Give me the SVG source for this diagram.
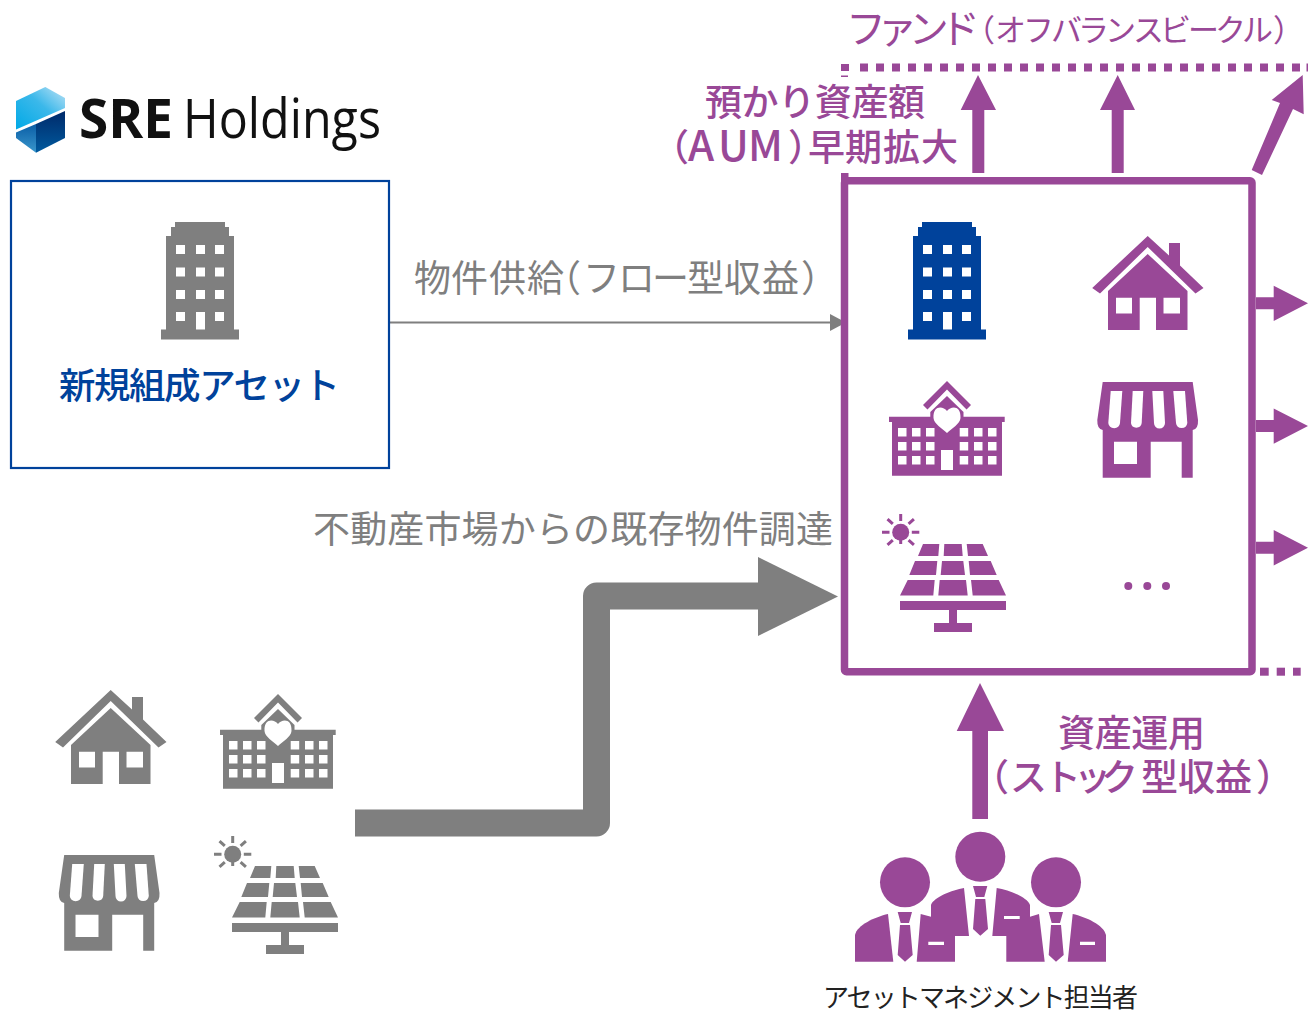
<svg xmlns="http://www.w3.org/2000/svg" width="1308" height="1014" viewBox="0 0 1308 1014">
<style>
text{font-family:"Noto Sans CJK JP","Noto Sans",sans-serif}
.p{fill:#994897}.g{fill:#7f7f7f}.b{fill:#00429b}.w{fill:#fff}
.t36{font-size:37px}
.lb{font-weight:500}
.lg{font-family:"Open Sans","Noto Sans",sans-serif;fill:#111}
</style>
<defs>
<linearGradient id="lgUp" x1="0" y1="1" x2="1" y2="0"><stop offset="0" stop-color="#00a9e6"/><stop offset=".55" stop-color="#3bb8ea"/><stop offset="1" stop-color="#bfe3f6"/></linearGradient>
<linearGradient id="lgLow" x1="0" y1="0" x2="0" y2="1"><stop offset="0" stop-color="#0a5ea6"/><stop offset="1" stop-color="#3a97cc"/></linearGradient>
<linearGradient id="lgDark" x1="0" y1="0" x2="0" y2="1"><stop offset="0" stop-color="#002a6a"/><stop offset="1" stop-color="#005a9e"/></linearGradient>
<g id="iBuilding">
<path d="M175 222H225V227H229V236H234V329.5H239V339.5H161V329.5H166V236H171V227H175Z"/>
<g class="w"><rect x="176" y="245" width="9" height="9"/><rect x="196" y="245" width="9" height="9"/><rect x="215" y="245" width="9" height="9"/><rect x="176" y="267.500" width="9" height="9"/><rect x="196" y="267.500" width="9" height="9"/><rect x="215" y="267.500" width="9" height="9"/><rect x="176" y="290" width="9" height="9"/><rect x="196" y="290" width="9" height="9"/><rect x="215" y="290" width="9" height="9"/><rect x="176" y="312" width="9" height="9"/><rect x="196" y="312" width="9" height="17.500"/><rect x="215" y="312" width="9" height="9"/></g>
</g>
<g id="iHouse">
<path d="M1147.700 236L1169 255.500V243H1180V265.500L1203.500 288L1195.500 293.500L1147.700 247L1100 293.500L1092.200 288Z"/>
<path fill-rule="evenodd" d="M1147.700 254L1187.500 291V330H1156V297.700H1139.700V330H1108V291ZM1116 297.700V313.500H1132V297.700ZM1163.500 297.700V313.500H1180V297.700Z"/>
</g>
<g id="iSchool">
<path d="M947 381L971 405L966.500 409.500L947 389.500L927.500 409.500L923 405Z"/>
<path d="M947 396L963.500 412V416.700H1004.700V422H1002V475.700H892V422H889V416.700H930.300V412Z"/>
<path class="w" d="M947 411C943 406 933 405 933.500 418C934 424 942 428 947 433C952 428 960 424 960.500 418C961 405 951 406 947 411Z"/>
<g class="w"><rect x="898" y="428" width="8.500" height="8.500"/><rect x="912" y="428" width="8.500" height="8.500"/><rect x="926" y="428" width="8.500" height="8.500"/><rect x="959.700" y="428" width="8.500" height="8.500"/><rect x="974" y="428" width="8.500" height="8.500"/><rect x="988" y="428" width="8.500" height="8.500"/><rect x="898" y="442" width="8.500" height="8.500"/><rect x="912" y="442" width="8.500" height="8.500"/><rect x="926" y="442" width="8.500" height="8.500"/><rect x="959.700" y="442" width="8.500" height="8.500"/><rect x="974" y="442" width="8.500" height="8.500"/><rect x="988" y="442" width="8.500" height="8.500"/><rect x="898" y="456" width="8.500" height="8.500"/><rect x="912" y="456" width="8.500" height="8.500"/><rect x="926" y="456" width="8.500" height="8.500"/><rect x="959.700" y="456" width="8.500" height="8.500"/><rect x="974" y="456" width="8.500" height="8.500"/><rect x="988" y="456" width="8.500" height="8.500"/><rect x="941" y="450" width="12" height="20"/></g>
</g>
<g id="iShop">
<path fill-rule="evenodd" d="M1102.700 382H1192.700L1198 420Q1198.500 429 1192.700 430V477.700H1181.700V441.700H1150.700V477.700H1102.700V430Q1097 429 1097.300 420ZM1114 441.700V464H1137V441.700Z"/>
<g class="w"><path d="M1110.700 391L1108.300 423A5.900 5.900 0 0 0 1120 423L1122.300 391Z"/><path d="M1132.700 391L1131 423A5.400 5.400 0 0 0 1141.700 423L1143.300 391Z"/><path d="M1152.300 391L1154 423A5.500 5.500 0 0 0 1165 423L1163.300 391Z"/><path d="M1173.300 391L1176 423A5.700 5.700 0 0 0 1187.300 423L1185 391Z"/></g>
</g>
<g id="iSolar">
<circle cx="900.700" cy="532.300" r="8.500"/>
<path d="M899.200 514h3v7h-3zM899.200 544v-7h3v7zM882 530.800h7.500v3H882zM911.800 530.800h7.500v3h-7.500zM888.500 518l5.300 4.800-2 2.200-5.300-4.800zM912.900 518l2 2.200-5.300 4.800-2-2.200zM886.500 543.800l5.300-4.800 2 2.200-5.300 4.800zM907.600 541.200l2-2.200 5.300 4.800-2 2.200z"/>
<path d="M923 544H939.300L938.300 556H918ZM944.300 544H961.700L962.700 556H943.700ZM966.700 544H982.700L988 556H968ZM915 561H937.300L936 575H909.300ZM942 561H963.300L965 575H940.700ZM968.700 561H990.700L996.700 575H970ZM907.700 580H934.700L933.300 595.600H900ZM939.700 580H966L967.700 595.600H938.300ZM971 580H998.700L1006 595.600H972.700ZM900 601H1006V610H957V623H972V632H934V623H949V610H900Z"/>
</g>
</defs>
<g id="logo">
<path d="M16 101L45.300 87L65 98V108L16 129.500Z" fill="url(#lgUp)"/>
<path d="M16 132.500L36 124V152.700L16 138Z" fill="url(#lgLow)"/>
<path d="M36 124L65 111V138L36 152.700Z" fill="url(#lgDark)"/>
<text class="lg" x="79" y="138" font-size="54" font-weight="700" textLength="94" lengthAdjust="spacingAndGlyphs">SRE</text>
<text class="lg" x="183" y="138" font-size="54" textLength="198" lengthAdjust="spacingAndGlyphs">Holdings</text>
</g>
<g id="connectors">
<g id="flow-supply"><path d="M389 322.500H835" stroke="#7f7f7f" stroke-width="2.200" fill="none"/><path class="g" d="M830 314L846 322.500L830 331Z"/></g>
<g id="flow-market"><path d="M355 823H596.500V596H765" stroke="#7f7f7f" stroke-width="27" stroke-linejoin="round" fill="none"/><path class="g" d="M758 557L838 596.500L758 636Z"/></g>
<g class="p">
<path d="M972.300 173V110H960.700L978 75L996 110H984.300V173Z"/>
<path d="M1111.700 173V110H1100L1117.700 75L1135 110H1123.700V173Z"/>
<path d="M1251.700 170L1280 103L1271.700 100L1302.700 75L1303.700 114.300L1293 109L1262 175Z"/>
<path d="M1256 297.300H1273.700V285.700L1308 303.300L1273.700 321V309.300H1256Z"/>
<path d="M1256 420H1273.700V408.400L1308 426L1273.700 443.700V432H1256Z"/>
<path d="M1256 541.700H1273.700V530L1308 547.700L1273.700 565.400V553.700H1256Z"/>
<path d="M972.300 819V731H956.700L980 683L1004 731H988V819Z"/>
</g>
<g class="p">
<rect x="841" y="64" width="8" height="7"/><rect x="841" y="75.500" width="7" height="1.500"/>
<path d="M860 67.500H1308" stroke="#994897" stroke-width="8" stroke-dasharray="8 8" fill="none"/>
<rect x="1306.500" y="63.500" width="1.500" height="8"/>
<rect x="1260" y="667.700" width="8.700" height="8"/><rect x="1276.700" y="667.700" width="8.300" height="8"/><rect x="1293" y="667.700" width="7.700" height="8"/>
</g>
</g>
<g id="node-new-asset">
<rect x="11" y="181" width="378" height="287" fill="#fff" stroke="#00429b" stroke-width="2.200"/>
<use href="#iBuilding" class="g"/>
<text class="b lb" x="59" y="399" font-size="36.500" textLength="281" lengthAdjust="spacing">新規組成アセット</text>
</g>
<g id="label-supply">
<text class="g t36" y="292" x="414 451 489 527 544 583 618 652 687 724 762 801">物件供給（フロー型収益）</text>
</g>
<g id="label-market">
<text class="g t36" x="313" y="543" textLength="520" lengthAdjust="spacing">不動産市場からの既存物件調達</text>
</g>
<g id="node-portfolio">
<rect x="844.500" y="180.700" width="407.500" height="491" rx="2" fill="none" stroke="#994897" stroke-width="7.500"/>
<rect class="p" x="841" y="173" width="7.500" height="10"/>
<use href="#iBuilding" transform="translate(747 0)" class="b"/>
<use href="#iHouse" class="p"/>
<use href="#iSchool" class="p"/>
<use href="#iShop" class="p"/>
<use href="#iSolar" class="p"/>
<g class="p"><circle cx="1128.300" cy="586" r="4"/><circle cx="1147.300" cy="586" r="4"/><circle cx="1166" cy="586" r="4"/></g>
</g>
<g id="node-market-assets">
<use href="#iHouse" transform="translate(-1037 454)" class="g"/>
<use href="#iSchool" transform="translate(-669 313)" class="g"/>
<use href="#iShop" transform="translate(-1038.500 473)" class="g"/>
<use href="#iSolar" transform="translate(-668 322)" class="g"/>
</g>
<g id="label-fund">
<text class="p" font-size="40" x="846" y="43" textLength="134" lengthAdjust="spacing">ファンド</text>
<text class="p" font-size="31" y="41" x="964 995 1023 1051 1078 1105 1133 1160 1188 1215 1242 1273">（オフバランスビークル）</text>
</g>
<g id="label-aum">
<text class="p t36 lb" x="705" y="116" textLength="220" lengthAdjust="spacing">預かり資産額</text>
<text class="p t36 lb" y="161" x="652 688 718 748 788 808 845 883 921">（<tspan font-size="42">AUM</tspan>）早期拡大</text>
</g>
<g id="label-operation">
<text class="p t36 lb" x="1058" y="747" textLength="147" lengthAdjust="spacing">資産運用</text>
<text class="p t36 lb" y="791" x="972 1010 1044 1074 1101 1141 1178 1215 1256">（ストック型収益）</text>
</g>
<g id="node-managers">
<g class="p">
<circle cx="905" cy="882.300" r="25"/><circle cx="980.300" cy="856.700" r="25"/><circle cx="1056" cy="882.300" r="25"/>
<path d="M855 961.700V935C857 925 875 917 888 914L893.300 961.700Z"/>
<path fill-rule="evenodd" d="M916.700 961.700L920.700 914L931 916.700V905C934 897 952 890 964 888L969 936H955V961.700ZM928.300 941.700V945H944V941.700Z"/>
<path fill-rule="evenodd" d="M1044.700 961.700L1039 914L1030 916.700V905C1027 897 1009 890 996.700 888L992.300 936H1006.300V961.700ZM1004 916V919H1019.700V916Z"/>
<path fill-rule="evenodd" d="M1072.700 914C1086 917 1104 925 1106 935V961.700H1067.700ZM1080 941.700V945H1095V941.700Z"/>
<path d="M897.700 912H912L909 923H900.700ZM900 925H910L912.700 955L905 961.700L897.700 955Z"/>
<path d="M973 886H987.300L984.300 897H976ZM975.300 899H985.300L988 929L980.300 935.700L973 929Z"/>
<path d="M1048.700 912H1063L1060 923H1051.700ZM1051 925H1061L1063.700 955L1056 961.700L1048.700 955Z"/>
</g>
<text x="823" y="1007" font-size="26" fill="#222" textLength="315" lengthAdjust="spacing">アセットマネジメント担当者</text>
</g>
</svg>
